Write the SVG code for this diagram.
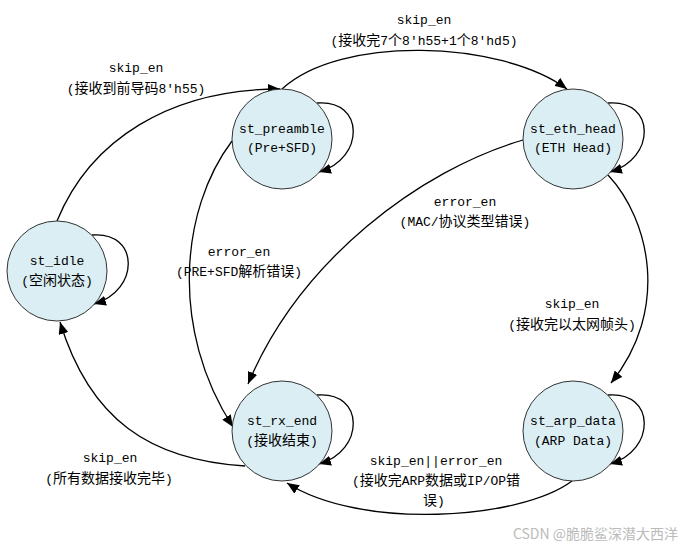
<svg xmlns="http://www.w3.org/2000/svg" width="687" height="549" viewBox="0 0 687 549">
<defs>
<style>
.node{fill:#daeef3;stroke:#333;stroke-width:1}
.edge{fill:none;stroke:#000;stroke-width:1.3;marker-end:url(#arr)}
.t{font-family:"Liberation Mono","Noto Sans CJK SC",monospace;font-size:13px;text-anchor:middle;fill:#000}
.c{font-family:"Noto Sans CJK SC",sans-serif;font-size:14px}
.wm{font-family:"Noto Sans CJK SC",sans-serif;font-size:14px;fill:#bbb}
</style>
<marker id="arr" markerUnits="userSpaceOnUse" markerWidth="12" markerHeight="10" refX="12" refY="5" orient="auto"><path d="M0,0 L12,5 L0,10 z" fill="#000"/></marker>
</defs>
<rect width="687" height="549" fill="#fff"/>
<g id="connectors">
<path class="edge" d="M57 221 C90 140 170 89 280 89"/>
<path class="edge" d="M282 89 C340 35 500 40 567 89"/>
<path class="edge" d="M608 175 C650 220 670 310 611 383"/>
<path class="edge" d="M523 140 C420 170 300 260 248 384"/>
<path class="edge" d="M232 141 C180 210 170 330 233 427"/>
<path class="edge" d="M245 466 C150 460 90 420 60 322"/>
<path class="edge" d="M572 481 C520 520 360 530 287 483"/>
<path class="edge" d="M92 235 C140 231 140 291 94 304"/>
<path class="edge" d="M317 103 C365 99 365 159 319 172"/>
<path class="edge" d="M608 103 C656 99 656 159 610 172"/>
<path class="edge" d="M317 395 C365 391 365 451 319 464"/>
<path class="edge" d="M608 395 C656 391 656 451 610 464"/>
</g>
<g id="edge-labels">
<text class="t"><tspan x="136" y="72">skip_en</tspan><tspan x="136" y="93">(<tspan class="c">接收到前导码</tspan>8'h55)</tspan></text>
<text class="t"><tspan x="424" y="24">skip_en</tspan><tspan x="424" y="45">(<tspan class="c">接收完</tspan>7<tspan class="c">个</tspan>8'h55+1<tspan class="c">个</tspan>8'hd5)</tspan></text>
<text class="t"><tspan x="465" y="206">error_en</tspan><tspan x="465" y="226">(MAC/<tspan class="c">协议类型错误</tspan>)</tspan></text>
<text class="t"><tspan x="239" y="256">error_en</tspan><tspan x="239" y="276">(PRE+SFD<tspan class="c">解析错误</tspan>)</tspan></text>
<text class="t"><tspan x="572" y="308">skip_en</tspan><tspan x="572" y="329">(<tspan class="c">接收完以太网帧头</tspan>)</tspan></text>
<text class="t"><tspan x="110" y="462">skip_en</tspan><tspan x="109" y="483">(<tspan class="c">所有数据接收完毕</tspan>)</tspan></text>
<text class="t"><tspan x="436" y="465">skip_en||error_en</tspan><tspan x="436" y="485">(<tspan class="c">接收完</tspan>ARP<tspan class="c">数据或</tspan>IP/OP<tspan class="c">错</tspan></tspan><tspan x="434" y="505"><tspan class="c">误</tspan>)</tspan></text>
</g>
<g id="st_idle">
<circle class="node" cx="57" cy="271" r="50"/>
<text class="t"><tspan x="57" y="265">st_idle</tspan><tspan x="57" y="285">(<tspan class="c">空闲状态</tspan>)</tspan></text>
</g>
<g id="st_preamble">
<circle class="node" cx="282" cy="139" r="50"/>
<text class="t"><tspan x="282" y="133">st_preamble</tspan><tspan x="282" y="152">(Pre+SFD)</tspan></text>
</g>
<g id="st_eth_head">
<circle class="node" cx="573" cy="139" r="50"/>
<text class="t"><tspan x="573" y="133">st_eth_head</tspan><tspan x="573" y="152">(ETH Head)</tspan></text>
</g>
<g id="st_rx_end">
<circle class="node" cx="282" cy="431" r="50"/>
<text class="t"><tspan x="282" y="425">st_rx_end</tspan><tspan x="282" y="445">(<tspan class="c">接收结束</tspan>)</tspan></text>
</g>
<g id="st_arp_data">
<circle class="node" cx="573" cy="431" r="50"/>
<text class="t"><tspan x="573" y="425">st_arp_data</tspan><tspan x="573" y="445">(ARP Data)</tspan></text>
</g>
<text class="wm" x="678" y="539" text-anchor="end">CSDN @脆脆鲨深潜大西洋</text>
</svg>
